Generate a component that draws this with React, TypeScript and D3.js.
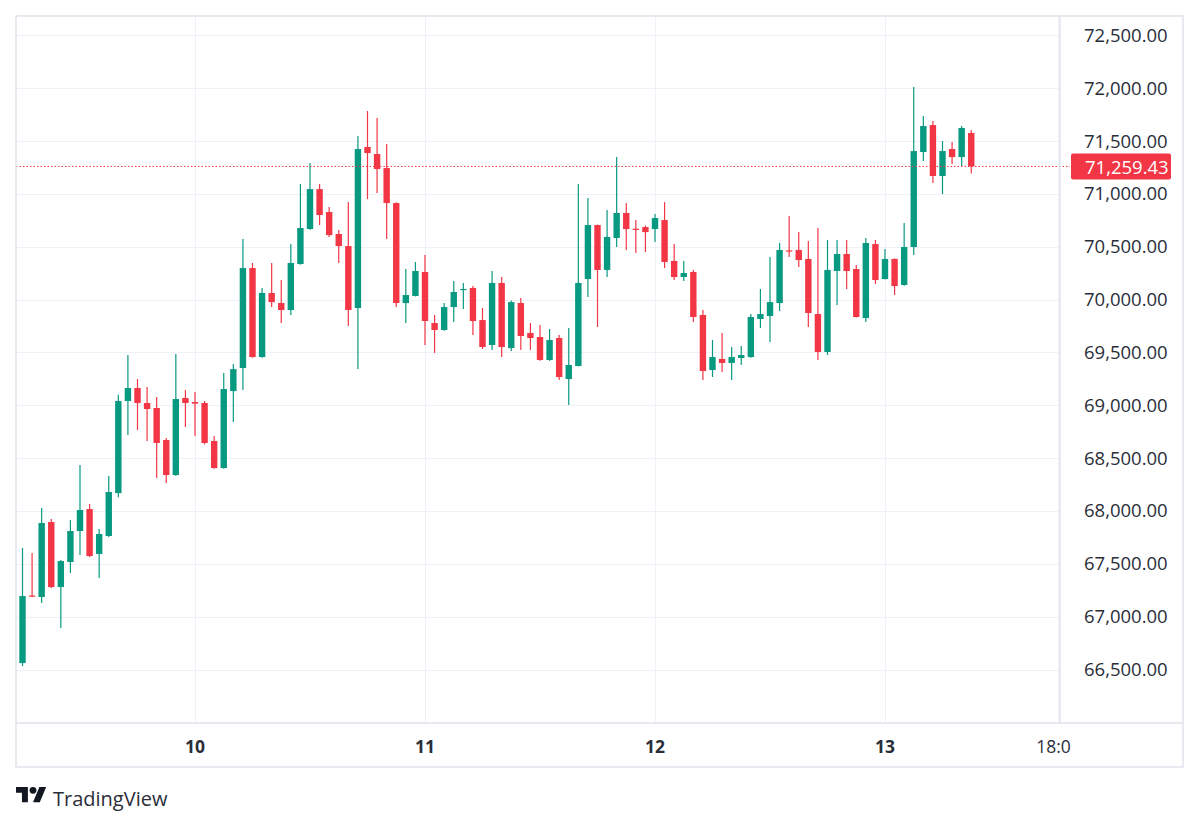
import React from 'react';
import * as d3 from 'd3';

// hourly candles, first one is day 9 06:00
const startHour = -18; // hours relative to day 10 00:00

const opens = [
  66561, 67200, 67186, 67895, 67280, 67517, 67810, 68018, 67593, 67763,
  68169, 69040, 69163, 69021, 68974, 68671, 68340, 69069, 69030, 69021,
  68662, 68406, 69134, 69352, 70298, 69456, 70062, 69967, 69901, 70336,
  70667, 71045, 70828, 70620, 70506, 69920, 71443, 71377, 71244, 70913,
  69967, 70034, 70261, 69778, 69712, 69929, 70090, 70109, 69806, 69570,
  70157, 69541, 69967, 69684, 69646, 69428, 69636, 69248, 69371, 70194,
  70705, 70280, 70582, 70819, 70670, 70686, 70667, 70752, 70365, 70213,
  70261, 69854, 69333, 69438, 69400, 69447, 69456, 69816, 69844, 69967,
  70465, 70469, 70384, 69863, 69504, 70270, 70431, 70289, 69825, 70525,
  70194, 70384, 70138, 70497, 71396, 71651, 71169, 71424, 71348, 71576,
];
const highs = [
  67650, 67602, 68028, 67924, 67536, 67914, 68435, 68066, 67829, 68330,
  69100, 69476, 69248, 69173, 69078, 68690, 69485, 69144, 69125, 69040,
  68709, 69305, 69390, 70573, 70346, 70109, 70346, 70185, 70525, 71093,
  71291, 71093, 70875, 70657, 70922, 71547, 71784, 71717, 71471, 70920,
  70289, 70355, 70422, 69854, 69967, 70175, 70157, 70128, 69920, 70270,
  70213, 69990, 70015, 69778, 69759, 69721, 69665, 69731, 71093, 70960,
  70710, 70847, 71349, 70913, 70752, 70700, 70809, 70922, 70525, 70365,
  70280, 69901, 69617, 69684, 69551, 69560, 69863, 70100, 70402, 70535,
  70790, 70639, 70554, 70676, 70563, 70563, 70563, 70327, 70582, 70563,
  70478, 70390, 70724, 72011, 71736, 71689, 71500, 71490, 71641, 71604,
];
const lows = [
  66533, 67186, 67129, 67271, 66893, 67413, 67583, 67564, 67366, 67754,
  68130, 68718, 68765, 68662, 68312, 68265, 68330, 68794, 68709, 68630,
  68400, 68400, 68841, 69144, 69450, 69450, 69929, 69778, 69854, 70330,
  70660, 70705, 70591, 70346, 69750, 69343, 70950, 71007, 70572, 69929,
  69778, 70030, 69570, 69495, 69705, 69788, 69910, 69665, 69532, 69523,
  69456, 69513, 69523, 69523, 69420, 69420, 69239, 69002, 69370, 70024,
  69740, 70213, 70497, 70468, 70440, 70450, 70544, 70298, 70185, 70175,
  69788, 69239, 69267, 69315, 69239, 69381, 69450, 69731, 69598, 69891,
  70402, 70308, 69740, 69428, 69475, 69948, 70100, 69830, 69788, 70147,
  70190, 70043, 70130, 70422, 71310, 71102, 70998, 71282, 71263, 71193,
];
const closes = [
  67195, 67190, 67886, 67280, 67526, 67810, 68009, 67573, 67782, 68179,
  69040, 69163, 69021, 68964, 68643, 68340, 69059, 69021, 69015, 68643,
  68406, 69153, 69342, 70298, 69456, 70062, 69976, 69901, 70346, 70677,
  71045, 70800, 70610, 70506, 69901, 71424, 71386, 71235, 70913, 69967,
  70043, 70270, 69797, 69712, 69929, 70071, 70100, 69797, 69551, 70157,
  69551, 69976, 69655, 69636, 69428, 69617, 69267, 69381, 70157, 70705,
  70280, 70592, 70819, 70667, 70660, 70638, 70771, 70355, 70213, 70251,
  69835, 69324, 69456, 69400, 69456, 69475, 69835, 69863, 69976, 70469,
  70455, 70374, 69873, 69504, 70280, 70431, 70270, 69835, 70535, 70185,
  70384, 70128, 70497, 71405, 71642, 71169, 71405, 71348, 71623, 71259.43,
];

const priceTicks = [72500, 72000, 71500, 71000, 70500, 70000, 69500, 69000, 68500, 68000, 67500, 67000, 66500];
const timeTicks = [
  { hour: 0, label: '10', bold: true },
  { hour: 24, label: '11', bold: true },
  { hour: 48, label: '12', bold: true },
  { hour: 72, label: '13', bold: true },
  { hour: 90, label: '18:0', bold: false },
];
const lastPrice = 71259.43;

const UP = '#089981';
const DOWN = '#F23645';
const FONT = '"Open Sans", "Noto Sans", sans-serif';

const App = () => {
  const width = 1200;
  const height = 825;
  const plot = { left: 16, top: 16, right: 1060, bottom: 723 };
  const outer = { right: 1183, bottom: 767 };

  const x = d3.scaleLinear().domain([0, 72]).range([195, 885]);
  const y = d3.scaleLinear().domain([66500, 72500]).range([669.5, 35.3]);

  const candles = opens.map((o, i) => ({
    hour: startHour + i,
    open: o,
    high: highs[i],
    low: lows[i],
    close: closes[i],
  }));

  const bodyW = 6.4;
  const fmt = d3.format(',.2f');

  return (
    <svg width={width} height={height} style={{ position: 'absolute', left: 0, top: 0, background: '#fff' }}>
      <rect x={0} y={0} width={width} height={height} fill="#fff" />
      {/* grid */}
      <g stroke="#eef1f7" strokeWidth={1}>
        {priceTicks.map((p) => (
          <line key={p} x1={plot.left} x2={plot.right} y1={Math.round(y(p)) + 0.5} y2={Math.round(y(p)) + 0.5} />
        ))}
        {timeTicks.map((t) => (
          <line key={t.label} x1={Math.round(x(t.hour)) + 0.5} x2={Math.round(x(t.hour)) + 0.5} y1={plot.top} y2={plot.bottom} />
        ))}
      </g>

      {/* candles */}
      <g>
        {candles.map((c) => {
          const up = c.close >= c.open;
          const col = up ? UP : DOWN;
          const cx = x(c.hour);
          const top = y(Math.max(c.open, c.close));
          const bot = y(Math.min(c.open, c.close));
          return (
            <g key={c.hour}>
              <line x1={cx} x2={cx} y1={y(c.high)} y2={y(c.low)} stroke={col} strokeWidth={1.2} />
              <rect x={cx - bodyW / 2} y={top} width={bodyW} height={Math.max(1.2, bot - top)} fill={col} />
            </g>
          );
        })}
      </g>

      {/* last price line */}
      <line
        x1={plot.left}
        x2={1070}
        y1={y(lastPrice)}
        y2={y(lastPrice)}
        stroke={DOWN}
        strokeWidth={1}
        strokeDasharray="1.5,2"
      />

      {/* frame */}
      <g stroke="#e0e3eb" strokeWidth={1.5} fill="none">
        <rect x={plot.left} y={plot.top} width={outer.right - plot.left} height={outer.bottom - plot.top} />
        <line x1={plot.left} x2={outer.right} y1={plot.bottom} y2={plot.bottom} />
        <line x1={plot.right} x2={plot.right} y1={plot.top} y2={plot.bottom} />
      </g>

      {/* price axis */}
      <g fontFamily={FONT} fontSize={18.5} fill="#2a2e39">
        {priceTicks.map((p) => (
          <text key={p} x={1084} y={y(p) - 1} dominantBaseline="central">
            {fmt(p)}
          </text>
        ))}
      </g>
      <rect x={1071} y={y(lastPrice) - 13} width={100} height={26} rx={2} fill={DOWN} />
      <text
        x={1085}
        y={y(lastPrice)}
        dominantBaseline="central"
        fontFamily={FONT}
        fontSize={18.5}
        fill="#fff"
      >
        {fmt(lastPrice)}
      </text>

      {/* time axis */}
      <g fontFamily={FONT} fontSize={17.5} fill="#2a2e39">
        {timeTicks.map((t) => (
          <text
            key={t.label}
            x={x(t.hour) - (t.bold ? 0 : 4)}
            y={746}
            textAnchor="middle"
            dominantBaseline="central"
            fontWeight={t.bold ? 700 : 400}
          >
            {t.label}
          </text>
        ))}
      </g>

      {/* logo */}
      <g transform="translate(16,783.5) scale(0.85)" fill="#131722">
        <path d="M14 22H7V11H0V4h14v18zM28 22h-8l7.5-18h8L28 22z" />
        <circle cx={20} cy={8} r={4} />
      </g>
      <text x={53} y={798} dominantBaseline="central" fontFamily={FONT} fontSize={20} fill="#2a2e39">
        TradingView
      </text>
    </svg>
  );
};

export default App;
